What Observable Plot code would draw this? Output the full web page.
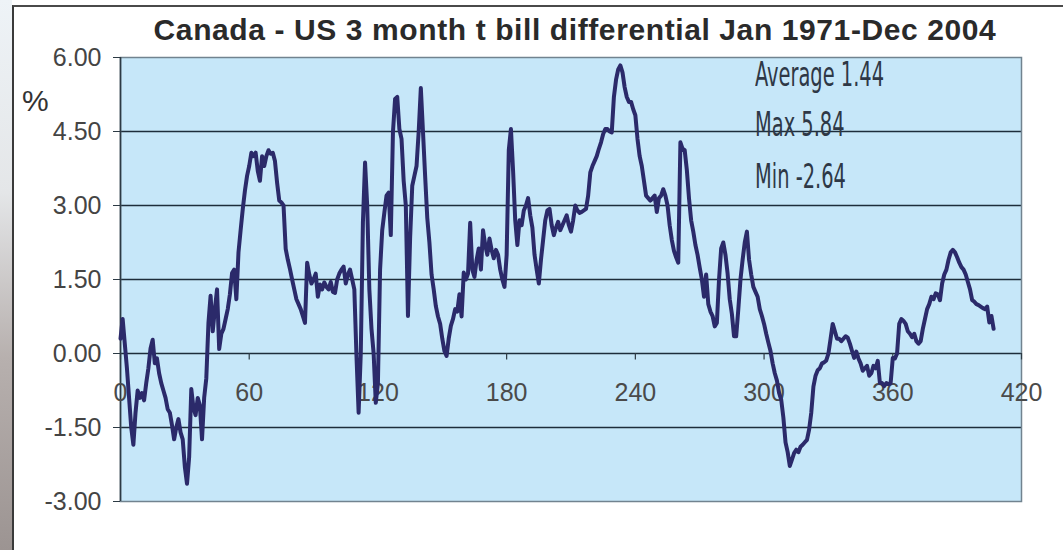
<!DOCTYPE html>
<html>
<head>
<meta charset="utf-8">
<script src="https://cdn.jsdelivr.net/npm/d3@7"></script>
<script src="https://cdn.jsdelivr.net/npm/@observablehq/plot@0.6"></script>
<style>
  body { margin: 0; background: #fff; }
  #wrap { position: relative; width: 1063px; height: 550px; overflow: hidden; font-family: "Liberation Sans", Arial, sans-serif; background: #fff; }
  #edge { position: absolute; left: 0; top: 0; width: 12px; height: 550px;
          background: linear-gradient(#eef3f7 0%, #e4e6e8 35%, #b7b0ae 65%, #9c9492 100%); }
  #frame { position: absolute; left: 12px; top: 5px; width: 1100px; height: 600px;
           border-left: 2px solid #3a3a3a; border-top: 2px solid #4a4a4a; }
  #chart { position: absolute; left: 0; top: 0; }
  #title { position: absolute; left: 0; top: 13px; width: 1150px; text-align: center;
           font-size: 30px; font-weight: bold; letter-spacing: 0.6px; color: #2a2a2a; white-space: nowrap; }
  #unit { position: absolute; left: 22px; top: 84px; font-size: 30px; color: #333; }
  .stat { position: absolute; left: 755px; font-family: "Liberation Sans Narrow", "DejaVu Sans Condensed", sans-serif;
          font-size: 34px; color: #2e3846; white-space: nowrap; transform-origin: 0 0; }
</style>
</head>
<body>
<div id="wrap">
  <div id="edge"></div>
  <div id="frame"></div>
  <div id="chart"></div>
  <div id="title">Canada - US 3 month t bill differential Jan 1971-Dec 2004</div>
  <div id="unit">%</div>
</div>
<script>
// Monthly Canada minus US 3-month T-bill yield, Jan 1971 (month 0) to Dec 2004 (month 407), in %
const spread = [
  0.3, 0.7, 0.2, -0.3, -0.9, -1.5, -1.85, -1.2, -0.75, -0.9, -0.8, -0.95, -0.6, -0.3, 0.1, 0.28,
  -0.2, -0.1, -0.4, -0.6, -0.75, -0.9, -1.13, -1.2, -1.45, -1.74, -1.5, -1.33, -1.6, -1.74, -2.3, -2.64,
  -2.1, -0.72, -1.1, -1.25, -0.9, -1.05, -1.74, -0.9, -0.5, 0.62, 1.17, 0.45, 0.9, 1.3, 0.09, 0.4,
  0.5, 0.7, 0.9, 1.2, 1.63, 1.7, 1.1, 2.05, 2.5, 2.93, 3.3, 3.6, 3.8, 4.07, 4.0, 4.07,
  3.7, 3.5, 4.0, 3.8, 4.0, 4.12, 4.05, 4.07, 3.9, 3.46, 3.1, 3.06, 3.0, 2.12, 1.9, 1.71,
  1.5, 1.3, 1.1, 1.0, 0.9, 0.76, 0.62, 1.84, 1.6, 1.42, 1.5, 1.62, 1.15, 1.4, 1.3, 1.44,
  1.35, 1.3, 1.45, 1.25, 1.23, 1.5, 1.62, 1.7, 1.76, 1.42, 1.6, 1.7, 1.5, 1.3, -0.05, -1.2,
  0.0, 2.65, 3.87, 3.0, 1.3, 0.5, 0.0, -1.0, -0.6, 1.7, 2.5, 2.86, 3.2, 3.26, 2.4, 4.48,
  5.16, 5.2, 4.55, 4.35, 3.5, 3.0, 0.76, 2.33, 3.4, 3.6, 3.8, 4.5, 5.38, 4.5, 3.6, 2.75,
  2.25, 1.6, 1.3, 0.96, 0.75, 0.6, 0.3, 0.05, -0.05, 0.3, 0.56, 0.7, 0.9, 0.85, 1.2, 0.75,
  1.64, 1.5, 1.62, 2.65, 1.7, 1.55, 1.9, 2.13, 1.7, 2.5, 2.2, 2.0, 2.33, 2.1, 1.93, 2.1,
  2.0, 1.7, 1.5, 1.35, 2.0, 4.12, 4.55, 3.7, 2.7, 2.2, 2.7, 2.6, 2.9, 3.0, 3.15, 2.8,
  2.55, 2.0, 1.7, 1.42, 1.9, 2.3, 2.7, 2.9, 2.93, 2.6, 2.4, 2.55, 2.67, 2.5, 2.6, 2.7,
  2.8, 2.6, 2.47, 2.7, 3.0, 2.9, 2.85, 2.87, 2.9, 2.93, 3.2, 3.67, 3.8, 3.9, 4.0, 4.15,
  4.28, 4.45, 4.55, 4.55, 4.5, 4.48, 5.2, 5.55, 5.76, 5.84, 5.7, 5.4, 5.2, 5.1, 5.1, 4.95,
  4.83, 4.35, 4.0, 3.8, 3.5, 3.2, 3.15, 3.1, 3.15, 3.2, 2.87, 3.15, 3.2, 3.33, 3.2, 3.0,
  2.6, 2.3, 2.08, 1.95, 1.84, 4.28, 4.15, 4.12, 3.72, 3.15, 2.7, 2.47, 2.2, 2.0, 1.74, 1.5,
  1.15, 1.6, 1.0, 0.85, 0.76, 0.55, 0.62, 1.5, 2.13, 2.25, 2.0, 1.62, 1.1, 0.8, 0.35, 0.35,
  0.9, 1.5, 1.9, 2.25, 2.47, 1.9, 1.6, 1.35, 1.25, 1.15, 0.9, 0.76, 0.6, 0.4, 0.22, 0.05,
  -0.2, -0.4, -0.55, -0.8, -0.94, -1.3, -1.8, -2.0, -2.28, -2.15, -2.02, -1.95, -2.0, -1.89, -1.85, -1.8,
  -1.75, -1.54, -1.2, -0.67, -0.45, -0.34, -0.3, -0.2, -0.18, -0.14, 0.0, 0.3, 0.6, 0.45, 0.3, 0.3,
  0.25, 0.3, 0.35, 0.32, 0.2, 0.05, -0.09, 0.04, -0.1, -0.2, -0.35, -0.3, -0.25, -0.45, -0.4, -0.25,
  -0.3, -0.15, -0.6, -0.6, -0.66, -0.6, -0.62, -0.6, -0.09, -0.1, 0.0, 0.6, 0.7, 0.66, 0.6, 0.45,
  0.4, 0.33, 0.4, 0.25, 0.2, 0.25, 0.5, 0.7, 0.9, 1.0, 1.15, 1.1, 1.22, 1.2, 1.08, 1.42,
  1.6, 1.7, 1.9, 2.05, 2.1, 2.05, 1.95, 1.84, 1.75, 1.7, 1.6, 1.45, 1.3, 1.08, 1.05, 1.0,
  0.98, 0.95, 0.92, 0.9, 0.95, 0.63, 0.76, 0.5
];

// Axis ticks
const xTicks = [0, 60, 120, 180, 240, 300, 360, 420];
const yTicks = [-3, -1.5, 0, 1.5, 3, 4.5, 6];

// Summary figures printed in the upper right
const statLabels = ["Average", "Max", "Min"];
const statValues = ["1.44", "5.84", "-2.64"];

const months = spread.map((v, i) => ({month: i, value: v}));

const chart = Plot.plot({
  width: 1063,
  height: 550,
  marginLeft: 120,
  marginRight: 42,
  marginTop: 57,
  marginBottom: 49,
  style: {background: "transparent", fontFamily: "'Liberation Sans', Arial, sans-serif"},
  x: {type: "linear", domain: [0, 420], axis: null},
  y: {type: "linear", domain: [-3, 6], axis: null},
  marks: [
    Plot.frame({fill: "#c6e7f9", stroke: null}),
    Plot.gridY(yTicks.slice(1, -1), {stroke: "#1d2d3b", strokeOpacity: 1, strokeWidth: 1.6}),
    Plot.frame({stroke: "#71838f", strokeWidth: 1.5, fill: null}),
    Plot.ruleX([0], {stroke: "#2c3a44", strokeWidth: 1.6}),
    // y axis ticks and labels on the left
    Plot.axisY(yTicks, {tickSize: 7, tickPadding: 12, tickFormat: d => d.toFixed(2),
      fontSize: 25, fill: "#444", stroke: "#2c3a44", label: null}),
    // x axis: small ticks hanging from the zero line, labels underneath
    Plot.ruleX(xTicks, {x: d => d, y1: 0, y2: -0.13, stroke: "#2c3a44", strokeWidth: 1.2}),
    Plot.text(xTicks, {x: d => d, y: 0, dy: 39, text: d => String(d),
      fontSize: 25, fill: "#4a4a4a"}),
    Plot.line(months, {x: "month", y: "value", stroke: "#2b2a6a", strokeWidth: 4,
      strokeLinejoin: "round", strokeLinecap: "round"})
  ]
});
document.getElementById("chart").appendChild(chart);

// Summary lines, in a narrow hand-lettered style
const wrap = document.getElementById("wrap");
const statTops = [54, 104, 156];
statLabels.forEach((label, i) => {
  const el = document.createElement("div");
  el.className = "stat";
  el.textContent = label + (i === 0 ? "  " : " ") + statValues[i];
  el.style.top = statTops[i] + "px";
  el.style.transform = "scale(0.635, 1)";
  wrap.appendChild(el);
});
</script>
</body>
</html>
